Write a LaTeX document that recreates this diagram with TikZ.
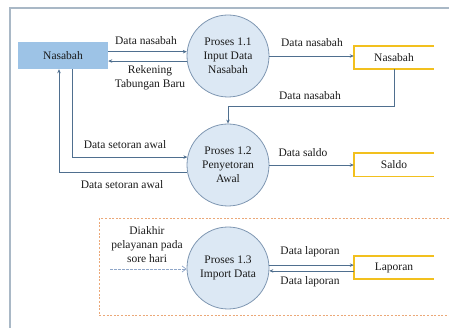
\documentclass[tikz,border=0pt]{standalone}
\usepackage{fontspec}
\setmainfont{Liberation Serif}
\usetikzlibrary{arrows.meta,calc}
\definecolor{boxblue}{HTML}{9DC3E6}
\definecolor{circfill}{HTML}{DCE8F4}
\definecolor{circline}{HTML}{7F97B2}
\definecolor{lineblue}{HTML}{4F6F8F}
\definecolor{storey}{HTML}{F2C01E}
\definecolor{dashor}{HTML}{EBA878}
\definecolor{framec}{HTML}{A9B8C6}
\definecolor{dasharr}{HTML}{8FA6C8}
\definecolor{txt}{HTML}{1A1A1A}
\begin{document}
\begin{tikzpicture}[x=1pt,y=-1pt,
  every node/.style={font=\rmfamily\fontsize{11.5}{14}\selectfont, text=txt, align=center, inner sep=0pt},
  proc/.style={circle, draw=circline, line width=0.8pt, fill=circfill, minimum size=82pt},
  extbox/.style={rectangle, fill=boxblue, minimum width=90pt, minimum height=27pt},
  storebox/.style={rectangle, minimum width=80pt, minimum height=23pt},
  storeline/.style={draw=storey, line width=1.6pt},
  flow/.style={draw=lineblue, line width=0.7pt, -{Stealth[length=4pt,width=3.5pt]}},
  lbl/.style={fill=none}]
\useasboundingbox (0,0) rectangle (449,328);
% outer frame
\draw[framec, line width=1.2pt] (10,328) -- (10,8) -- (449,8);
% dashed group box
\draw[dashor, line width=1pt, dash pattern=on 2pt off 1.6pt] (449,219) -- (99,219) -- (99,315) -- (449,315);

% nodes
\node[extbox] (nas) at (63,55.5) {Nasabah};
\node[proc] (p11) at (228,56) {Proses 1.1\\Input Data\\Nasabah};
\node[proc] (p12) at (228,165) {Proses 1.2\\Penyetoran\\Awal};
\node[proc] (p13) at (228,268) {Proses 1.3\\Import Data};
\node[storebox] (s1) at (394,57.5) {Nasabah};
\node[storebox] (s2) at (394,165) {Saldo};
\node[storebox] (s3) at (394,267.5) {Laporan};
\draw[storeline] (s1.north east) -- (s1.north west) -- (s1.south west) -- (s1.south east);
\draw[storeline] (s2.north east) -- (s2.north west) -- (s2.south west) -- (s2.south east);
\draw[storeline] (s3.north east) -- (s3.north west) -- (s3.south west) -- (s3.south east);

% flows process 1.1
\draw[flow] (nas.east |- p11.174) -- (p11.174);
\draw[flow] (p11.187) -- (nas.east |- p11.187);
\node[lbl] (l1) at (146,41) {Data nasabah};
\node[lbl] (l2) at (150,78) {Rekening\\Tabungan Baru};
\draw[flow] (p11.east) -- (p11.east -| s1.west);
\node[lbl] (l3) at (312,43) {Data nasabah};

% store nasabah to process 1.2
\draw[flow] (s1.south) -- ++(0,37) -| (p12.north);
\node[lbl] (l4) at (310,96) {Data nasabah};

% nasabah <-> process 1.2
\draw[flow] ([xshift=9pt]nas.south) |- (p12.169);
\draw[flow] (p12.190) -| ([xshift=-4pt]nas.south);
\node[lbl] (l5) at (125,145) {Data setoran awal};
\node[lbl] (l6) at (122,185) {Data setoran awal};

% process 1.2 to saldo
\draw[flow] (p12.east) -- (p12.east -| s2.west);
\node[lbl] (l7) at (303,153) {Data saldo};

% process 1.3
\coordinate (trig) at (110,269);
\draw[draw=dasharr, line width=0.7pt, dash pattern=on 2.5pt off 1.5pt, -{Straight Barb[length=4pt,width=6pt]}] (trig) -- (trig -| p13.west);
\node[lbl] (l8) at (147,245) {Diakhir\\pelayanan pada\\sore hari};
\draw[flow] (p13.4) -- (p13.4 -| s3.west);
\draw[flow] (s3.west |- p13.-4) -- (p13.-4);
\node[lbl] (l9) at (310,252) {Data laporan};
\node[lbl] (l10) at (310,282) {Data laporan};
\end{tikzpicture}
\end{document}
